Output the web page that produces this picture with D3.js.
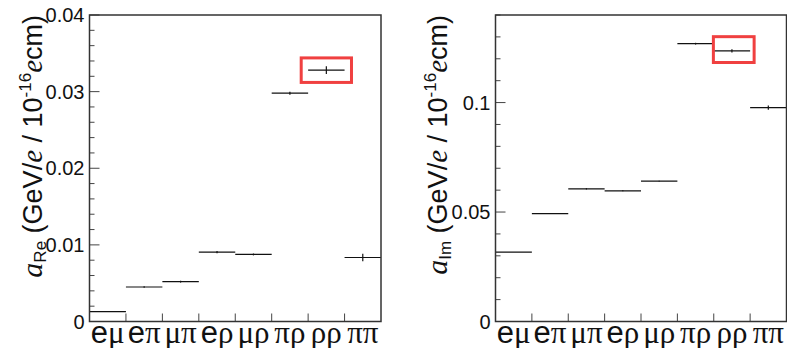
<!DOCTYPE html>
<html>
<head>
<meta charset="utf-8">
<script src="https://cdn.jsdelivr.net/npm/d3@7"></script>
<style>
  body { margin: 0; background: #fff; }
  text { font-family: "Liberation Sans", Arial, sans-serif; }
</style>
</head>
<body>
<script>
// channel labels, first letter plain, second one greek
var channels = [['e','μ'],['e','π'],['μ','π'],['e','ρ'],['μ','ρ'],['π','ρ'],['ρ','ρ'],['π','π']];

// real part
var reVals = [0.0013, 0.0045, 0.0052, 0.00905, 0.00875, 0.0298, 0.0328, 0.00835];
var reErrs = [0, 0.0001, 0.00012, 0.00015, 0.00012, 0.0002, 0.0005, 0.0005];
var reTicks = [0, 0.01, 0.02, 0.03, 0.04];
var reTickLabels = ['0', '0.01', '0.02', '0.03', '0.04'];

// imaginary part
var imVals = [0.0317, 0.0493, 0.0606, 0.0597, 0.0641, 0.1269, 0.1236, 0.0977];
var imErrs = [0, 0.0002, 0.0003, 0.0002, 0.0002, 0.0004, 0.0007, 0.001];
var imTicks = [0, 0.05, 0.1];
var imTickLabels = ['0', '0.05', '0.1'];

var svg = d3.select('body').append('svg')
  .attr('width', 787)
  .attr('height', 348);

var drawPanel = function(opt) {
  var x = d3.scaleBand().domain(d3.range(channels.length)).range([opt.x0, opt.x1]).paddingInner(0);
  var y = d3.scaleLinear().domain(opt.domain).range([opt.y1, opt.y0]);
  var g = svg.append('g');

  // y axis ticks (major + minor)
  var minor = d3.range(0, opt.domain[1] + 1e-9, opt.minorStep);
  g.selectAll('.minor').data(minor).enter().append('line')
    .attr('x1', opt.x0).attr('x2', function(d){
      var isMajor = opt.ticks.some(function(t){ return Math.abs(t - d) < 1e-9; });
      return opt.x0 + (isMajor ? 10 : 5);
    })
    .attr('y1', function(d){ return y(d); }).attr('y2', function(d){ return y(d); })
    .attr('stroke', '#444').attr('stroke-width', 1);

  g.selectAll('.ylab').data(opt.ticks).enter().append('text')
    .attr('x', opt.x0 - 5)
    .attr('y', function(d){ return y(d); })
    .attr('dy', '0.36em')
    .attr('text-anchor', 'end')
    .attr('font-size', 20)
    .attr('fill', '#111')
    .text(function(d, i){ return opt.tickLabels[i]; });

  // x ticks at bin edges
  g.selectAll('.xtick').data(d3.range(1, channels.length)).enter().append('line')
    .attr('x1', function(d){ return x(d); }).attr('x2', function(d){ return x(d); })
    .attr('y1', opt.y1).attr('y2', opt.y1 - 8)
    .attr('stroke', '#444');

  // x labels
  var lab = g.selectAll('.xlab').data(channels).enter().append('text')
    .attr('x', function(d, i){ return x(i) + x.bandwidth() / 2; })
    .attr('y', opt.y1 + 21)
    .attr('text-anchor', 'middle')
    .attr('font-size', 31)
    .attr('fill', '#111');
  lab.append('tspan').text(function(d){ return d[0]; })
    .attr('font-family', function(d){ return d[0] === 'e' ? '"Liberation Sans", Arial' : '"Liberation Serif", serif'; });
  lab.append('tspan').text(function(d){ return d[1]; })
    .attr('font-family', '"Liberation Serif", serif');

  // horizontal bars
  g.selectAll('.bin').data(opt.vals).enter().append('line')
    .attr('x1', function(d, i){ return x(i); })
    .attr('x2', function(d, i){ return x(i) + x.bandwidth(); })
    .attr('y1', function(d){ return y(d); }).attr('y2', function(d){ return y(d); })
    .attr('stroke', '#111').attr('stroke-width', 1.2);

  // error bars
  g.selectAll('.err').data(opt.vals).enter().append('line')
    .attr('x1', function(d, i){ return x(i) + x.bandwidth() / 2; })
    .attr('x2', function(d, i){ return x(i) + x.bandwidth() / 2; })
    .attr('y1', function(d, i){ return y(d - opt.errs[i]); })
    .attr('y2', function(d, i){ return y(d + opt.errs[i]); })
    .attr('stroke', '#111').attr('stroke-width', 1.2);

  // frame
  g.append('rect')
    .attr('x', opt.x0).attr('y', opt.y0)
    .attr('width', opt.x1 - opt.x0).attr('height', opt.y1 - opt.y0)
    .attr('fill', 'none').attr('stroke', '#333').attr('stroke-width', 1.5);

  // highlight box around the rho rho bin
  g.append('rect')
    .attr('x', x(0) + opt.box[0] * x.bandwidth())
    .attr('y', y(opt.box[3]))
    .attr('width', (opt.box[1] - opt.box[0]) * x.bandwidth())
    .attr('height', y(opt.box[2]) - y(opt.box[3]))
    .attr('fill', 'none').attr('stroke', '#f04040').attr('stroke-width', 3);

  // y title
  var t = g.append('text')
    .attr('transform', 'translate(' + opt.titleX + ',' + opt.y0 + ') rotate(-90)')
    .attr('text-anchor', 'end')
    .attr('font-size', 27)
    .attr('fill', '#111');
  t.append('tspan').attr('font-family', '"Liberation Serif", serif').attr('font-style', 'italic').attr('font-size', 30).text('a');
  t.append('tspan').attr('font-size', 17).attr('dy', 4).text(opt.sub);
  t.append('tspan').attr('dy', -4).text(' (GeV/');
  t.append('tspan').attr('font-family', '"Liberation Serif", serif').attr('font-style', 'italic').attr('font-size', 29).text('e');
  t.append('tspan').text(' / 10');
  t.append('tspan').attr('font-size', 17).attr('dy', -11).text('-16');
  t.append('tspan').attr('font-family', '"Liberation Serif", serif').attr('font-style', 'italic').attr('font-size', 29).attr('dy', 11).text('e');
  t.append('tspan').text('cm)');
};

drawPanel({
  x0: 89.5, x1: 381, y0: 15, y1: 321.5,
  domain: [0, 0.04], minorStep: 0.002,
  ticks: reTicks, tickLabels: reTickLabels,
  vals: reVals, errs: reErrs, sub: 'Re',
  box: [5.81, 7.19, 0.0312, 0.0344],
  titleX: 42
});

drawPanel({
  x0: 495.5, x1: 786.5, y0: 15, y1: 321.5,
  domain: [0, 0.14], minorStep: 0.01,
  ticks: imTicks, tickLabels: imTickLabels,
  vals: imVals, errs: imErrs, sub: 'Im',
  box: [5.99, 7.11, 0.1183, 0.1301],
  titleX: 447
});
</script>
</body>
</html>
